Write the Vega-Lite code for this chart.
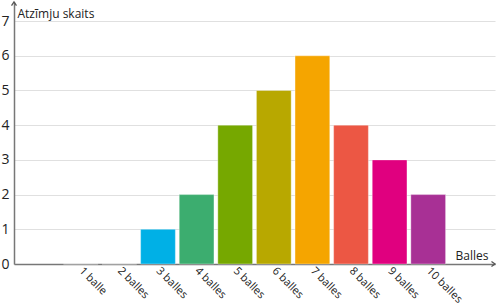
{
  "$schema": "https://vega.github.io/schema/vega-lite/v6.json",
  "width": 481,
  "height": 262,
  "autosize": "none",
  "padding": {"left": 14, "top": 2, "right": 5, "bottom": 40},
  "config": {"view": {"stroke": null}, "font": "Open Sans"},
  "layer": [
    {
      "data": {"values": [
        {"atzime": "1 balle", "skaits": 0},
        {"atzime": "2 balles", "skaits": 0},
        {"atzime": "3 balles", "skaits": 1},
        {"atzime": "4 balles", "skaits": 2},
        {"atzime": "5 balles", "skaits": 4},
        {"atzime": "6 balles", "skaits": 5},
        {"atzime": "7 balles", "skaits": 6},
        {"atzime": "8 balles", "skaits": 4},
        {"atzime": "9 balles", "skaits": 3},
        {"atzime": "10 balles", "skaits": 2}
      ]},
      "mark": {"type": "bar", "stroke": "white", "strokeOpacity": 0.35, "strokeWidth": 1},
      "encoding": {
        "x": {
          "field": "atzime", "type": "nominal", "sort": null,
          "scale": {
            "domain": [" ", "1 balle", "2 balles", "3 balles", "4 balles", "5 balles", "6 balles", "7 balles", "8 balles", "9 balles", "10 balles", "  "],
            "paddingInner": 0.1, "paddingOuter": 0.28
          },
          "axis": {
            "title": "Balles", "values": ["1 balle", "2 balles", "3 balles", "4 balles", "5 balles", "6 balles", "7 balles", "8 balles", "9 balles", "10 balles"],
            "labelAngle": 45, "labelAlign": "left", "labelBaseline": "middle",
            "labelFontSize": 11, "labelColor": "#222", "labelPadding": 5, "ticks": false, "labelOverlap": false,
            "domainColor": "#777", "domainWidth": 1.5, "grid": false,
            "titleAngle": 0, "titleAlign": "right", "titleBaseline": "alphabetic",
            "titleX": 474, "titleY": -5, "titleFontWeight": "normal", "titleFontSize": 12, "titleColor": "#222"
          }
        },
        "y": {
          "field": "skaits", "type": "quantitative",
          "scale": {"domain": [0, 7.55], "nice": false},
          "axis": {
            "title": "Atzīmju skaits", "values": [0, 1, 2, 3, 4, 5, 6, 7], "ticks": false, "labelOverlap": false,
            "labelFontSize": 14, "labelPadding": 5, "labelColor": "#222",
            "domainColor": "#777", "domainWidth": 1.5, "gridColor": "#e0e0e0", "gridWidth": 1.2,
            "titleAngle": 0, "titleAlign": "left", "titleBaseline": "alphabetic",
            "titleX": 3, "titleY": 15, "titleFontWeight": "normal", "titleFontSize": 12, "titleColor": "#222"
          }
        },
        "color": {
          "field": "atzime", "type": "nominal", "legend": null,
          "scale": {
            "domain": ["1 balle", "2 balles", "3 balles", "4 balles", "5 balles", "6 balles", "7 balles", "8 balles", "9 balles", "10 balles"],
            "range": ["#0070c0", "#0090d0", "#00b0e6", "#3cad6f", "#76a800", "#b8a800", "#f5a500", "#ec5744", "#e0007f", "#a83095"]
          }
        }
      }
    },
    {
      "data": {"values": [{}]},
      "mark": {"type": "point", "shape": "M-0.7,1 L0,0 L0.7,1", "filled": false, "stroke": "#555", "strokeWidth": 1.3, "size": 50, "opacity": 1, "clip": false},
      "encoding": {
        "x": {"datum": 0, "type": "quantitative", "scale": {"domain": [0, 1]}, "axis": null},
        "y": {
          "datum": 7.55, "type": "quantitative",
          "axis": {
            "title": "Atzīmju skaits", "values": [0, 1, 2, 3, 4, 5, 6, 7], "ticks": false, "labelOverlap": false,
            "labelFontSize": 14, "labelPadding": 5, "labelColor": "#222",
            "domainColor": "#777", "domainWidth": 1.5, "gridColor": "#e0e0e0", "gridWidth": 1.2,
            "titleAngle": 0, "titleAlign": "left", "titleBaseline": "alphabetic",
            "titleX": 3, "titleY": 15, "titleFontWeight": "normal", "titleFontSize": 12, "titleColor": "#222"
          }
        }
      }
    },
    {
      "data": {"values": [{}]},
      "mark": {"type": "point", "shape": "M-1,-0.7 L0,0 L-1,0.7", "filled": false, "stroke": "#555", "strokeWidth": 1.3, "size": 50, "opacity": 1, "clip": false},
      "encoding": {
        "x": {"datum": 1, "type": "quantitative", "scale": {"domain": [0, 1]}, "axis": null},
        "y": {
          "datum": 0, "type": "quantitative",
          "axis": {
            "title": "Atzīmju skaits", "values": [0, 1, 2, 3, 4, 5, 6, 7], "ticks": false, "labelOverlap": false,
            "labelFontSize": 14, "labelPadding": 5, "labelColor": "#222",
            "domainColor": "#777", "domainWidth": 1.5, "gridColor": "#e0e0e0", "gridWidth": 1.2,
            "titleAngle": 0, "titleAlign": "left", "titleBaseline": "alphabetic",
            "titleX": 3, "titleY": 15, "titleFontWeight": "normal", "titleFontSize": 12, "titleColor": "#222"
          }
        }
      }
    }
  ],
  "resolve": {"scale": {"x": "independent"}}
}
